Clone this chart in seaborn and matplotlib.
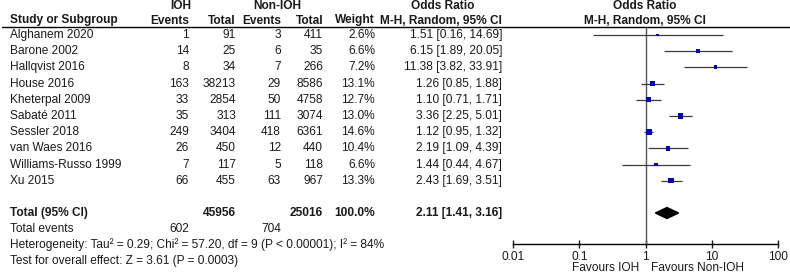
import numpy as np
import matplotlib
matplotlib.use('Agg')
import matplotlib.pyplot as plt
import seaborn as sns

# Study data
studies = ['Alghanem 2020', 'Barone 2002', 'Hallqvist 2016', 'House 2016', 'Kheterpal 2009',
           'Sabaté 2011', 'Sessler 2018', 'van Waes 2016', 'Williams-Russo 1999', 'Xu 2015']
ioh_events = [1, 14, 8, 163, 33, 35, 249, 26, 7, 66]
ioh_total = [91, 25, 34, 38213, 2854, 313, 3404, 450, 117, 455]
non_events = [3, 6, 7, 29, 50, 111, 418, 12, 5, 63]
non_total = [411, 35, 266, 8586, 4758, 3074, 6361, 440, 118, 967]
weights = [2.6, 6.6, 7.2, 13.1, 12.7, 13.0, 14.6, 10.4, 6.6, 13.3]
odds = [1.51, 6.15, 11.38, 1.26, 1.10, 3.36, 1.12, 2.19, 1.44, 2.43]
ci_low = [0.16, 1.89, 3.82, 0.85, 0.71, 2.25, 0.95, 1.09, 0.44, 1.69]
ci_high = [14.69, 20.05, 33.91, 1.88, 1.71, 5.01, 1.32, 4.39, 4.67, 3.51]

# Pooled result
pooled = [2.11, 1.41, 3.16]
total_n = [45956, 25016]
total_events = [602, 704]
tick_vals = [0.01, 0.1, 1, 10, 100]
tick_labels = ['0.01', '0.1', '1', '10', '100']

sns.set_theme(style='white')
plt.rcParams['font.family'] = ['Liberation Sans', 'DejaVu Sans']

W, H = 790, 274
fs = 8.6
ink = '#1a1a1a'

fig = plt.figure(figsize=(W / 100, H / 100), dpi=100)
fig.patch.set_facecolor('white')

# text table axes in pixel coordinates
ax_t = fig.add_axes([0, 0, 1, 1])
ax_t.set_xlim(0, W)
ax_t.set_ylim(H, 0)
ax_t.axis('off')


def put(x, y, s, ha='left', bold=False):
    ax_t.text(x, y, s, ha=ha, va='center', fontsize=fs, color=ink,
              fontweight='bold' if bold else 'normal')


# column anchors
x_name, x_ev1, x_tot1, x_ev2, x_tot2, x_w, x_or = 10, 189, 236, 281, 323, 375, 502
rows = 35 + 16.2 * np.arange(len(studies))
y_total, y_events, y_het, y_test = 213, 229, 245, 261

# headers
put(181, 6, 'IOH', ha='center', bold=True)
put(277, 6, 'Non-IOH', ha='center', bold=True)
put(443, 6, 'Odds Ratio', ha='center', bold=True)
put(645, 6, 'Odds Ratio', ha='center', bold=True)
put(x_name, 20.5, 'Study or Subgroup', bold=True)
put(x_ev1, 20.5, 'Events', ha='right', bold=True)
put(x_tot1, 20.5, 'Total', ha='right', bold=True)
put(x_ev2, 20.5, 'Events', ha='right', bold=True)
put(x_tot2, 20.5, 'Total', ha='right', bold=True)
put(x_w, 20.5, 'Weight', ha='right', bold=True)
put(x_or, 20.5, 'M-H, Random, 95% CI', ha='right', bold=True)
put(645, 20.5, 'M-H, Random, 95% CI', ha='center', bold=True)
ax_t.plot([2, W], [27, 27], color='black', lw=1)

for i, y in enumerate(rows):
    put(x_name, y, studies[i])
    put(x_ev1, y, str(ioh_events[i]), ha='right')
    put(x_tot1, y, str(ioh_total[i]), ha='right')
    put(x_ev2, y, str(non_events[i]), ha='right')
    put(x_tot2, y, str(non_total[i]), ha='right')
    put(x_w, y, f'{weights[i]:.1f}%', ha='right')
    put(x_or, y, f'{odds[i]:.2f} [{ci_low[i]:.2f}, {ci_high[i]:.2f}]', ha='right')

put(x_name, y_total, 'Total (95% CI)', bold=True)
put(x_tot1, y_total, str(total_n[0]), ha='right', bold=True)
put(x_tot2, y_total, str(total_n[1]), ha='right', bold=True)
put(x_w, y_total, '100.0%', ha='right', bold=True)
put(x_or, y_total, f'{pooled[0]:.2f} [{pooled[1]:.2f}, {pooled[2]:.2f}]', ha='right', bold=True)
put(x_name, y_events, 'Total events')
put(x_ev1, y_events, str(total_events[0]), ha='right')
put(x_ev2, y_events, str(total_events[1]), ha='right')
put(x_name, y_het, 'Heterogeneity: Tau² = 0.29; Chi² = 57.20, df = 9 (P < 0.00001); I² = 84%')
put(x_name, y_test, 'Test for overall effect: Z = 3.61 (P = 0.0003)')
put(639, 268, 'Favours IOH', ha='right')
put(651, 268, 'Favours Non-IOH')

# forest axes, y in the same pixel rows
fx0, fx1, fy0, fy1 = 513, 778, 28, 244
ax_f = fig.add_axes([fx0 / W, (H - fy1) / H, (fx1 - fx0) / W, (fy1 - fy0) / H])
ax_f.set_facecolor('none')
ax_f.set_xscale('log')
ax_f.set_xlim(0.01, 100)
ax_f.set_ylim(fy1, fy0)

ax_f.axvline(1, color='#555555', lw=1, zorder=1)
ax_f.hlines(rows, ci_low, ci_high, color='#3a3a3a', lw=0.9, zorder=2)
sns.scatterplot(x=odds, y=rows, size=weights, sizes=(3, 16), marker='s',
                color='#0000c0', linewidth=0, legend=False, ax=ax_f, zorder=3)
ax_f.fill([pooled[1], pooled[0], pooled[2], pooled[0]],
          [y_total, y_total - 5.5, y_total, y_total + 5.5], color='black', zorder=3)

for s in ['left', 'top', 'right']:
    ax_f.spines[s].set_visible(False)
ax_f.spines['bottom'].set_color('black')
ax_f.spines['bottom'].set_linewidth(1)
ax_f.set_xticks(tick_vals)
ax_f.set_xticklabels(tick_labels)
ax_f.minorticks_off()
ax_f.set_yticks([])
ax_f.tick_params(axis='x', direction='inout', length=5.8, width=1, pad=2.5,
                 labelsize=fs, colors=ink, bottom=True)
ax_f.set_xlabel('')
ax_f.set_ylabel('')

fig.savefig('out.png', dpi=100, facecolor='white')
